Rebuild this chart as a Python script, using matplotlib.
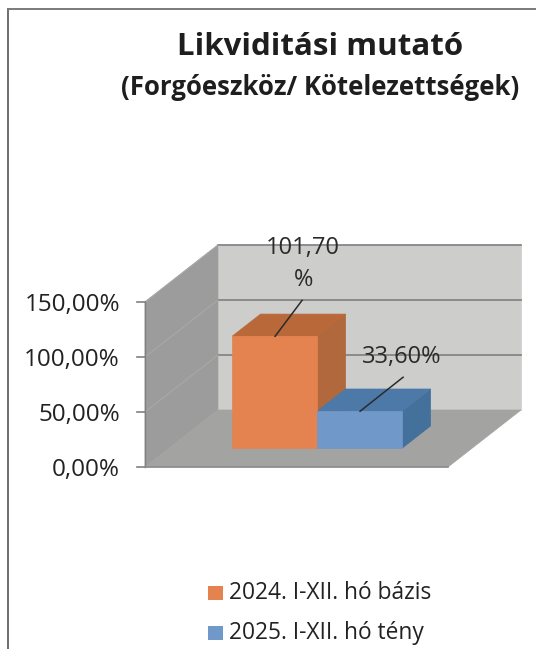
import matplotlib
matplotlib.use("Agg")
import matplotlib.pyplot as plt
from matplotlib.patches import Polygon, Rectangle

plt.rcParams['font.family'] = ['Open Sans', 'DejaVu Sans']

# adatok
title = "Likviditási mutató"
subtitle = "(Forgóeszköz/ Kötelezettségek)"
series_names = ["2024. I-XII. hó bázis", "2025. I-XII. hó tény"]
series_values = [101.70, 33.60]
bar_labels = ["101,70\n%", "33,60%"]
axis_ticks = [0, 50, 100, 150]
tick_labels = ["0,00%", "50,00%", "100,00%", "150,00%"]

front_colors = ["#e48350", "#7098c8"]
top_colors = ["#b9683a", "#4d79a8"]
side_colors = ["#b0683c", "#44709c"]

# y tengely: 1 % = 1.1 pixel, a 0 szint a 467. pixelen
PX_PER_UNIT = 1.1
ZERO_PX = 467
FLOOR_X = 145
FLOOR_W = 303
DEPTH_X = 73
DEPTH_Y = 57 / PX_PER_UNIT
BAR_D0, BAR_D1 = 0.33, 0.72
BAR_X = [63, 148]
BAR_W = 85
AXIS_MAX = axis_ticks[-1]


def project(x, value, depth):
    """3D pont (x, érték, mélység) vetítése az axes koordinátáira"""
    return (FLOOR_X + x + depth * DEPTH_X, value + depth * DEPTH_Y)


def face(points, color, z=2):
    ax.add_patch(Polygon([project(*p) for p in points], closed=True,
                         facecolor=color, edgecolor=color, linewidth=0.5, zorder=z))


fig = plt.figure(figsize=(5.36, 6.49), dpi=100, facecolor="white")
ax = fig.add_axes([0, 0, 1, 1])
ax.set_xlim(0, 536)
ax.set_ylim((ZERO_PX - 649) / PX_PER_UNIT, ZERO_PX / PX_PER_UNIT)
ax.axis("off")

# keret
ax.plot([8, 8], [(ZERO_PX - 649) / PX_PER_UNIT, (ZERO_PX - 9) / PX_PER_UNIT],
        color="#6e6e6e", lw=1.4)
ax.plot([8, 536], [(ZERO_PX - 9) / PX_PER_UNIT] * 2, color="#7a7a7a", lw=1.4)

# falak és padló
face([(0, 0, 1), (FLOOR_W, 0, 1), (FLOOR_W, AXIS_MAX, 1), (0, AXIS_MAX, 1)], "#cdcdcb", 1)
face([(0, 0, 0), (0, 0, 1), (0, AXIS_MAX, 1), (0, AXIS_MAX, 0)], "#9c9c9c", 1)
face([(0, 0, 0), (FLOOR_W, 0, 0), (FLOOR_W, 0, 1), (0, 0, 1)], "#a3a3a1", 1)

# rácsvonalak és tengely
for v in axis_ticks[1:]:
    xs, ys = zip(project(0, v, 1), project(FLOOR_W, v, 1))
    ax.plot(xs, ys, color="#868686", lw=1.3, zorder=1.5)
    xs, ys = zip(project(0, v, 0), project(0, v, 1))
    ax.plot(xs, ys, color="#a8a8a8", lw=0.8, zorder=1.5)
for v, lab in zip(axis_ticks, tick_labels):
    ax.plot([137, FLOOR_X], [v, v], color="#808080", lw=1.2, zorder=1.5)
    # a felirat kb. 3 pixellel a beosztás alatt ül
    ax.text(120, v - 3 / PX_PER_UNIT, lab, ha="right", va="center", fontsize=17.5, color="#222222")
ax.plot([FLOOR_X, FLOOR_X], [0, AXIS_MAX], color="#808080", lw=1.0, zorder=1.5)
xs, ys = zip(project(0, 0, 0), project(FLOOR_W, 0, 0))
ax.plot(xs, ys, color="#8c8c8c", lw=1.2, zorder=1.5)

# oszlopok
for i, val in enumerate(series_values):
    x0, x1 = BAR_X[i], BAR_X[i] + BAR_W
    face([(x1, 0, BAR_D0), (x1, 0, BAR_D1), (x1, val, BAR_D1), (x1, val, BAR_D0)], side_colors[i], 2)
    face([(x0, val, BAR_D0), (x1, val, BAR_D0), (x1, val, BAR_D1), (x0, val, BAR_D1)], top_colors[i], 2)
    face([(x0, 0, BAR_D0), (x1, 0, BAR_D0), (x1, val, BAR_D0), (x0, val, BAR_D0)], front_colors[i], 3)

# címkék vezetővonallal (pixelben mért eltolás az oszlop tetejétől)
leader_px = [((43, 0), (70, 36)), ((43, 0), (86, 34))]
label_px = [(71, 72), (85, 54)]
for i, val in enumerate(series_values):
    cx, cy = project(BAR_X[i], val, BAR_D0)
    (a, b), (c, d) = leader_px[i]
    ax.plot([cx + a, cx + c], [cy + b / PX_PER_UNIT, cy + d / PX_PER_UNIT],
            color="#2b2b2b", lw=1.1, zorder=4)
    ax.text(cx + label_px[i][0], cy + label_px[i][1] / PX_PER_UNIT, bar_labels[i],
            ha="center", va="center", fontsize=17, color="#2a2a2a",
            linespacing=1.45, zorder=5)

# cím
ax.text(320, (ZERO_PX - 47) / PX_PER_UNIT, title, ha="center", va="center",
        fontsize=22.5, fontweight="bold", color="#1e1e1e")
ax.text(320, (ZERO_PX - 87) / PX_PER_UNIT, subtitle, ha="center", va="center",
        fontsize=18.5, fontweight="bold", color="#1e1e1e")

# jelmagyarázat
for name, col, py in zip(series_names, front_colors, [593, 633]):
    ax.add_patch(Rectangle((208, (ZERO_PX - py - 7) / PX_PER_UNIT), 15, 14 / PX_PER_UNIT,
                           facecolor=col, edgecolor="none"))
    ax.text(229, (ZERO_PX - py) / PX_PER_UNIT, name, ha="left", va="center",
            fontsize=16.4, color="#222222")

fig.savefig("out.png", dpi=100)
